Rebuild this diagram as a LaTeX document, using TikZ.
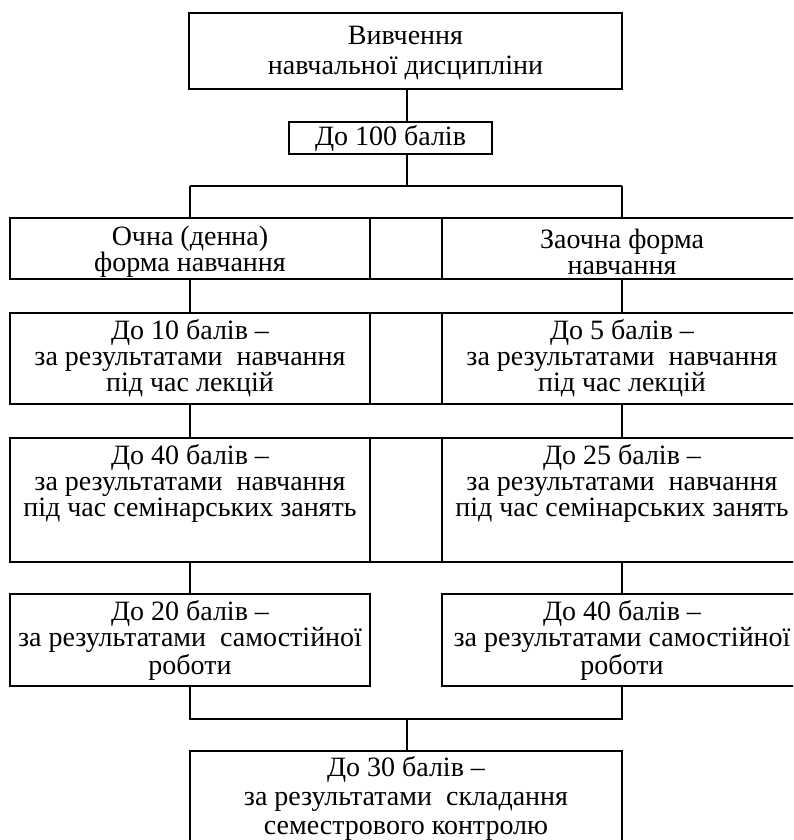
\documentclass[tikz,border=0pt]{standalone}
\usepackage{fontspec}
\setmainfont{Liberation Serif}
\usetikzlibrary{fit}
\begin{document}
\begin{tikzpicture}[x=0.5pt,y=-0.5pt, line width=0.85pt,
  boxs/.style={draw, inner sep=0pt, outer sep=0pt},
  bigtxt/.style={align=center, inner sep=0pt, font=\fontsize{14pt}{15pt}\selectfont},
  bottxt/.style={align=center, inner sep=0pt, font=\fontsize{14pt}{14.3pt}\selectfont},
  smalltxt/.style={align=center, inner sep=0pt, font=\fontsize{14pt}{13pt}\selectfont}]
\useasboundingbox (0,0) rectangle (793,840);
\clip (0,0) rectangle (793,840);
% boxes
\node[boxs, fit={(189,13) (622,89)}] (top) {};
\node[boxs, fit={(289,122) (492,154)}] (b100) {};
\node[boxs, fit={(10,218) (370,279)}] (r1l) {};
\node[boxs, fit={(370,218) (442,279)}] (r1m) {};
\node[boxs, fit={(442,218) (802,279)}] (r1r) {};
\node[boxs, fit={(10,313) (370,404)}] (r2l) {};
\node[boxs, fit={(370,313) (442,404)}] (r2m) {};
\node[boxs, fit={(442,313) (802,404)}] (r2r) {};
\node[boxs, fit={(10,438) (370,562)}] (r3l) {};
\node[boxs, fit={(370,438) (442,562)}] (r3m) {};
\node[boxs, fit={(442,438) (802,562)}] (r3r) {};
\node[boxs, fit={(10,594) (370,686)}] (r4l) {};
\node[boxs, fit={(442,594) (802,686)}] (r4r) {};
\node[boxs, fit={(190,751) (622,870)}] (bot) {};
% texts
\node[bigtxt] (ttop) at (405.5,53) {Вивчення\\навчальної дисципліни};
\node[bigtxt] (t100) at (b100.center) {До 100 балів};
\node[smalltxt] (t1l) at (190,252) {Очна (денна)\\форма навчання};
\node[smalltxt] (t1r) at (622,252) {Заочна форма\\навчання};
\node[smalltxt] (t2l) at (r2l.center) {До 10 балів –\\за результатами\ \ навчання\\під час лекцій};
\node[smalltxt] (t2r) at (622,358.5) {До 5 балів –\\за результатами\ \ навчання\\під час лекцій};
\node[smalltxt] (t3l) at (190,483.5) {До 40 балів –\\за результатами\ \ навчання\\під час семінарських занять};
\node[smalltxt] (t3r) at (622,483.5) {До 25 балів –\\за результатами\ \ навчання\\під час семінарських занять};
\node[smalltxt] (t4l) at (r4l.center) {До 20 балів –\\за результатами\ \ самостійної\\роботи};
\node[smalltxt] (t4r) at (622,640) {До 40 балів –\\за результатами самостійної\\роботи};
\node[bottxt, anchor=north] (tbot) at (406,756) {До 30 балів –\\за результатами\ \ складання\\семестрового контролю};
% connectors
\coordinate (j1) at (407,186);
\coordinate (jl) at (190,186);
\coordinate (jr) at (622,186);
\coordinate (bj) at (407,719);
\draw (top.south -| j1) -- (b100.north -| j1);
\draw (b100.south -| j1) -- (j1);
\draw (jl) -- (jr);
\draw (jl) -- (r1l.north);
\draw (jr) -- (r1r.north -| jr);
\draw (r1l.south) -- (r2l.north);
\draw (r1r.south -| jr) -- (r2r.north -| jr);
\draw (r2l.south) -- (r3l.north);
\draw (r2r.south -| jr) -- (r3r.north -| jr);
\draw (r3l.south) -- (r4l.north);
\draw (r3r.south -| jr) -- (r4r.north -| jr);
\draw (r4l.south) -- (r4l.south |- bj) -- (jr |- bj) -- (r4r.south -| jr);
\draw (bj) -- (bot.north -| bj);
\end{tikzpicture}
\end{document}
